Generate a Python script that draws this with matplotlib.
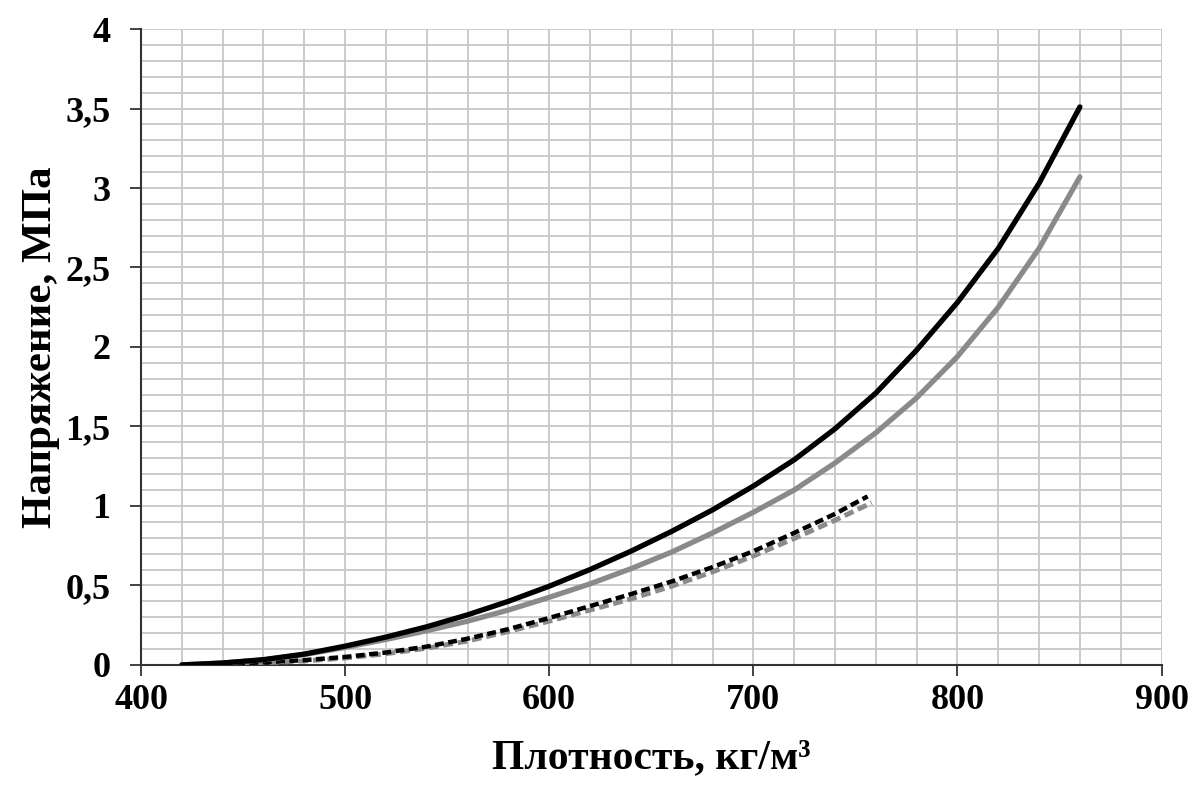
import matplotlib

matplotlib.use("Agg")
import matplotlib.pyplot as plt
from matplotlib.ticker import MultipleLocator, FuncFormatter

# Плотность, кг/м3
x_solid = [420, 440, 460, 480, 500, 520, 540, 560, 580, 600, 620, 640, 660, 680,
           700, 720, 740, 760, 780, 800, 820, 840, 860]
black_solid = [0, 0.012, 0.033, 0.068, 0.118, 0.175, 0.24, 0.315, 0.40, 0.495, 0.60,
               0.715, 0.84, 0.975, 1.125, 1.29, 1.485, 1.71, 1.98, 2.28, 2.62, 3.03, 3.51]
gray_solid = [0, 0.012, 0.032, 0.065, 0.11, 0.16, 0.215, 0.275, 0.345, 0.425, 0.51,
              0.605, 0.71, 0.83, 0.96, 1.10, 1.27, 1.46, 1.68, 1.94, 2.25, 2.62, 3.07]

x_black_dash = [427, 440, 460, 480, 500, 520, 540, 560, 580, 600, 620, 640, 660,
                680, 700, 720, 740, 756]
black_dash = [0, 0.006, 0.016, 0.03, 0.05, 0.078, 0.115, 0.165, 0.225, 0.295, 0.37,
              0.445, 0.525, 0.615, 0.715, 0.83, 0.95, 1.06]
x_gray_dash = [420, 440, 460, 480, 500, 520, 540, 560, 580, 600, 620, 640, 660,
               680, 700, 720, 740, 758]
gray_dash = [0, 0.005, 0.013, 0.025, 0.043, 0.07, 0.105, 0.15, 0.21, 0.275, 0.345,
             0.415, 0.495, 0.585, 0.685, 0.795, 0.91, 1.02]

GRAY = "#8a8a8a"

plt.rcParams["font.family"] = "Liberation Serif"
plt.rcParams["font.weight"] = "bold"

fig = plt.figure(figsize=(11.95, 7.85), dpi=100)
ax = fig.add_axes([0.118, 0.153, 0.854, 0.810])

ax.plot(x_gray_dash, gray_dash, color=GRAY, lw=3.5, dashes=(2.0, 1.0), zorder=3)
ax.plot(x_black_dash, black_dash, color="black", lw=3.2, dashes=(2.0, 1.0), zorder=4)
ax.plot(x_solid, gray_solid, color=GRAY, lw=3.8, zorder=5,
        solid_capstyle="round", solid_joinstyle="round")
ax.plot(x_solid, black_solid, color="black", lw=3.8, zorder=6,
        solid_capstyle="round", solid_joinstyle="round")

ax.set_xlim(400, 900)
ax.set_ylim(0, 4)
ax.xaxis.set_major_locator(MultipleLocator(100))
ax.xaxis.set_minor_locator(MultipleLocator(20))
ax.yaxis.set_major_locator(MultipleLocator(0.5))
ax.yaxis.set_minor_locator(MultipleLocator(0.1))
ax.yaxis.set_major_formatter(FuncFormatter(lambda v, p: f"{v:g}".replace(".", ",")))

ax.grid(True, which="both", color="#c8c8c8", lw=1.3, zorder=0)
ax.set_axisbelow(True)

for s in ["top", "right"]:
    ax.spines[s].set_visible(False)
for s in ["left", "bottom"]:
    ax.spines[s].set_color("#333333")
    ax.spines[s].set_linewidth(1.5)

ax.tick_params(axis="both", which="major", direction="out", length=8, width=1.3,
               labelsize=26, color="#333333")
ax.tick_params(axis="x", pad=6)
ax.tick_params(axis="y", pad=14)
ax.tick_params(which="minor", length=0)
for lab in ax.get_xticklabels() + ax.get_yticklabels():
    lab.set_fontweight("bold")

ax.set_xlabel("Плотность, кг/м³", fontsize=30, fontweight="bold", labelpad=16)
ax.set_ylabel("Напряжение, МПа", fontsize=31, fontweight="bold", labelpad=4)

fig.savefig("out.png", dpi=100)
plt.close()
